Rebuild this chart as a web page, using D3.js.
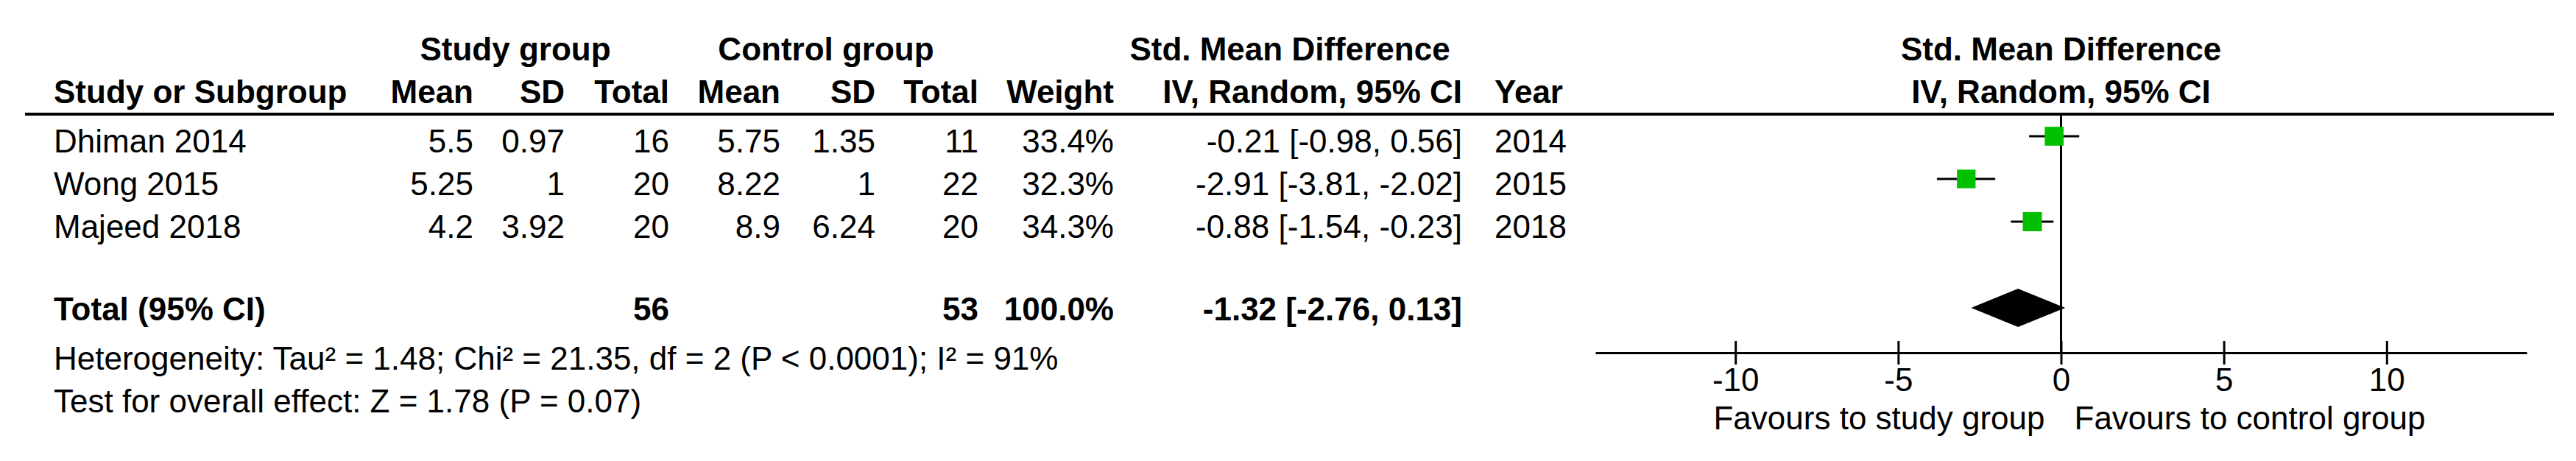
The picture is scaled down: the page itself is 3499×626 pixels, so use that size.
<!DOCTYPE html>
<html>
<head>
<meta charset="utf-8">
<script src="https://cdn.jsdelivr.net/npm/d3@7"></script>
<style>
  html, body { margin: 0; padding: 0; background: #fff; }
  text { font-family: "Liberation Sans", Arial, sans-serif; fill: #000; }
</style>
</head>
<body>
<div id="chart"></div>
<script>
// study rows
const studies = ["Dhiman 2014", "Wong 2015", "Majeed 2018"];
const studyMean = [5.5, 5.25, 4.2];
const studySD = [0.97, 1, 3.92];
const studyN = [16, 20, 20];
const ctrlMean = [5.75, 8.22, 8.9];
const ctrlSD = [1.35, 1, 6.24];
const ctrlN = [11, 22, 20];
const weights = [33.4, 32.3, 34.3];
const smd = [-0.21, -2.91, -0.88];
const ciLow = [-0.98, -3.81, -1.54];
const ciHigh = [0.56, -2.02, -0.23];
const years = [2014, 2015, 2018];

// pooled
const totalStudyN = 56;
const totalCtrlN = 53;
const totalWeight = 100.0;
const pooled = { est: -1.32, lo: -2.76, hi: 0.13 };

const heterogeneity = "Heterogeneity: Tau\u00b2 = 1.48; Chi\u00b2 = 21.35, df = 2 (P < 0.0001); I\u00b2 = 91%";
const overallTest = "Test for overall effect: Z = 1.78 (P = 0.07)";

const axisTicks = [-10, -5, 0, 5, 10];
const axisDomain = [-14.3, 14.3];
const favours = ["Favours to study group", "Favours to control group"];

const W = 3499, H = 626;
const fs = 44;

const svg = d3.select("#chart").append("svg")
  .attr("width", W).attr("height", H);
svg.append("rect").attr("width", W).attr("height", H).attr("fill", "#fff");

// plain hyphen as minus sign, like the original
const loc = d3.formatLocale({ decimal: ".", thousands: ",", grouping: [3], currency: ["", ""], minus: "-" });
const f2 = loc.format(".2f");
const f1 = loc.format(".1f");
const ciText = (e, l, h) => f2(e) + " [" + f2(l) + ", " + f2(h) + "]";

// columns (right-aligned unless noted)
const col = {
  name: 73, sMean: 643, sSD: 767, sN: 909, cMean: 1060, cSD: 1189, cN: 1329,
  weight: 1513, ci: 1986, year: 2030
};

const rowY = d3.scaleLinear().domain([0, 1]).range([207, 265]);
const totalY = 435;

const x = d3.scaleLinear().domain(axisDomain).range([2167, 3432]);
const axisY = 479;

function txt(g, xx, yy, s, anchor, bold) {
  return g.append("text")
    .attr("x", xx).attr("y", yy)
    .attr("text-anchor", anchor || "start")
    .attr("font-size", fs)
    .attr("font-weight", bold ? "bold" : "normal")
    .text(s);
}

const head = svg.append("g");
txt(head, 700, 82, "Study group", "middle", true);
txt(head, 1122, 82, "Control group", "middle", true);
txt(head, 1752, 82, "Std. Mean Difference", "middle", true);
txt(head, x(0), 82, "Std. Mean Difference", "middle", true);

txt(head, col.name, 140, "Study or Subgroup", "start", true);
txt(head, col.sMean, 140, "Mean", "end", true);
txt(head, col.sSD, 140, "SD", "end", true);
txt(head, col.sN, 140, "Total", "end", true);
txt(head, col.cMean, 140, "Mean", "end", true);
txt(head, col.cSD, 140, "SD", "end", true);
txt(head, col.cN, 140, "Total", "end", true);
txt(head, col.weight, 140, "Weight", "end", true);
txt(head, col.ci, 140, "IV, Random, 95% CI", "end", true);
txt(head, col.year, 140, "Year", "start", true);
txt(head, x(0), 140, "IV, Random, 95% CI", "middle", true);

svg.append("line")
  .attr("x1", 34).attr("x2", 3469)
  .attr("y1", 155).attr("y2", 155)
  .attr("stroke", "#000").attr("stroke-width", 4);

// table rows
const rows = svg.append("g");
studies.forEach((s, i) => {
  const y = rowY(i);
  txt(rows, col.name, y, s, "start");
  txt(rows, col.sMean, y, String(studyMean[i]), "end");
  txt(rows, col.sSD, y, String(studySD[i]), "end");
  txt(rows, col.sN, y, String(studyN[i]), "end");
  txt(rows, col.cMean, y, String(ctrlMean[i]), "end");
  txt(rows, col.cSD, y, String(ctrlSD[i]), "end");
  txt(rows, col.cN, y, String(ctrlN[i]), "end");
  txt(rows, col.weight, y, f1(weights[i]) + "%", "end");
  txt(rows, col.ci, y, ciText(smd[i], ciLow[i], ciHigh[i]), "end");
  txt(rows, col.year, y, String(years[i]), "start");
});

txt(rows, col.name, totalY, "Total (95% CI)", "start", true);
txt(rows, col.sN, totalY, String(totalStudyN), "end", true);
txt(rows, col.cN, totalY, String(totalCtrlN), "end", true);
txt(rows, col.weight, totalY, f1(totalWeight) + "%", "end", true);
txt(rows, col.ci, totalY, ciText(pooled.est, pooled.lo, pooled.hi), "end", true);

txt(rows, col.name, 502, heterogeneity, "start");
txt(rows, col.name, 560, overallTest, "start");

// forest plot
const plot = svg.append("g");

plot.append("line")
  .attr("x1", x(0)).attr("x2", x(0))
  .attr("y1", 155).attr("y2", axisY)
  .attr("stroke", "#000").attr("stroke-width", 3);

const boxSize = d3.scaleSqrt().domain([0, d3.max(weights)]).range([0, 26]);
const markY = i => rowY(i) - 22;

plot.selectAll(".ci").data(studies).enter().append("line")
  .attr("class", "ci")
  .attr("x1", (_, i) => x(ciLow[i]))
  .attr("x2", (_, i) => x(ciHigh[i]))
  .attr("y1", (_, i) => markY(i))
  .attr("y2", (_, i) => markY(i))
  .attr("stroke", "#000").attr("stroke-width", 3);

plot.selectAll(".box").data(studies).enter().append("rect")
  .attr("class", "box")
  .attr("x", (_, i) => x(smd[i]) - boxSize(weights[i]) / 2)
  .attr("y", (_, i) => markY(i) - boxSize(weights[i]) / 2)
  .attr("width", (_, i) => boxSize(weights[i]))
  .attr("height", (_, i) => boxSize(weights[i]))
  .attr("fill", "#00c000");

const dy = 418, dh = 26;
plot.append("path")
  .attr("d", "M" + x(pooled.lo) + "," + dy +
    "L" + x(pooled.est) + "," + (dy - dh) +
    "L" + x(pooled.hi) + "," + dy +
    "L" + x(pooled.est) + "," + (dy + dh) + "Z")
  .attr("fill", "#000");

const gx = plot.append("g")
  .attr("transform", "translate(0," + axisY + ")")
  .call(d3.axisBottom(x).tickValues(axisTicks).tickSize(16).tickSizeOuter(0)
    .tickFormat(loc.format("d")));
gx.select(".domain").attr("stroke", "#000").attr("stroke-width", 3);
gx.selectAll(".tick line").attr("y1", -16).attr("y2", 16)
  .attr("stroke", "#000").attr("stroke-width", 3);
gx.selectAll(".tick text")
  .attr("y", 52).attr("dy", null)
  .attr("font-size", fs)
  .attr("font-family", "Liberation Sans, Arial, sans-serif")
  .attr("fill", "#000");

txt(plot, x(0) - 22, 583, favours[0], "end");
txt(plot, x(0) + 18, 583, favours[1], "start");
</script>
</body>
</html>
